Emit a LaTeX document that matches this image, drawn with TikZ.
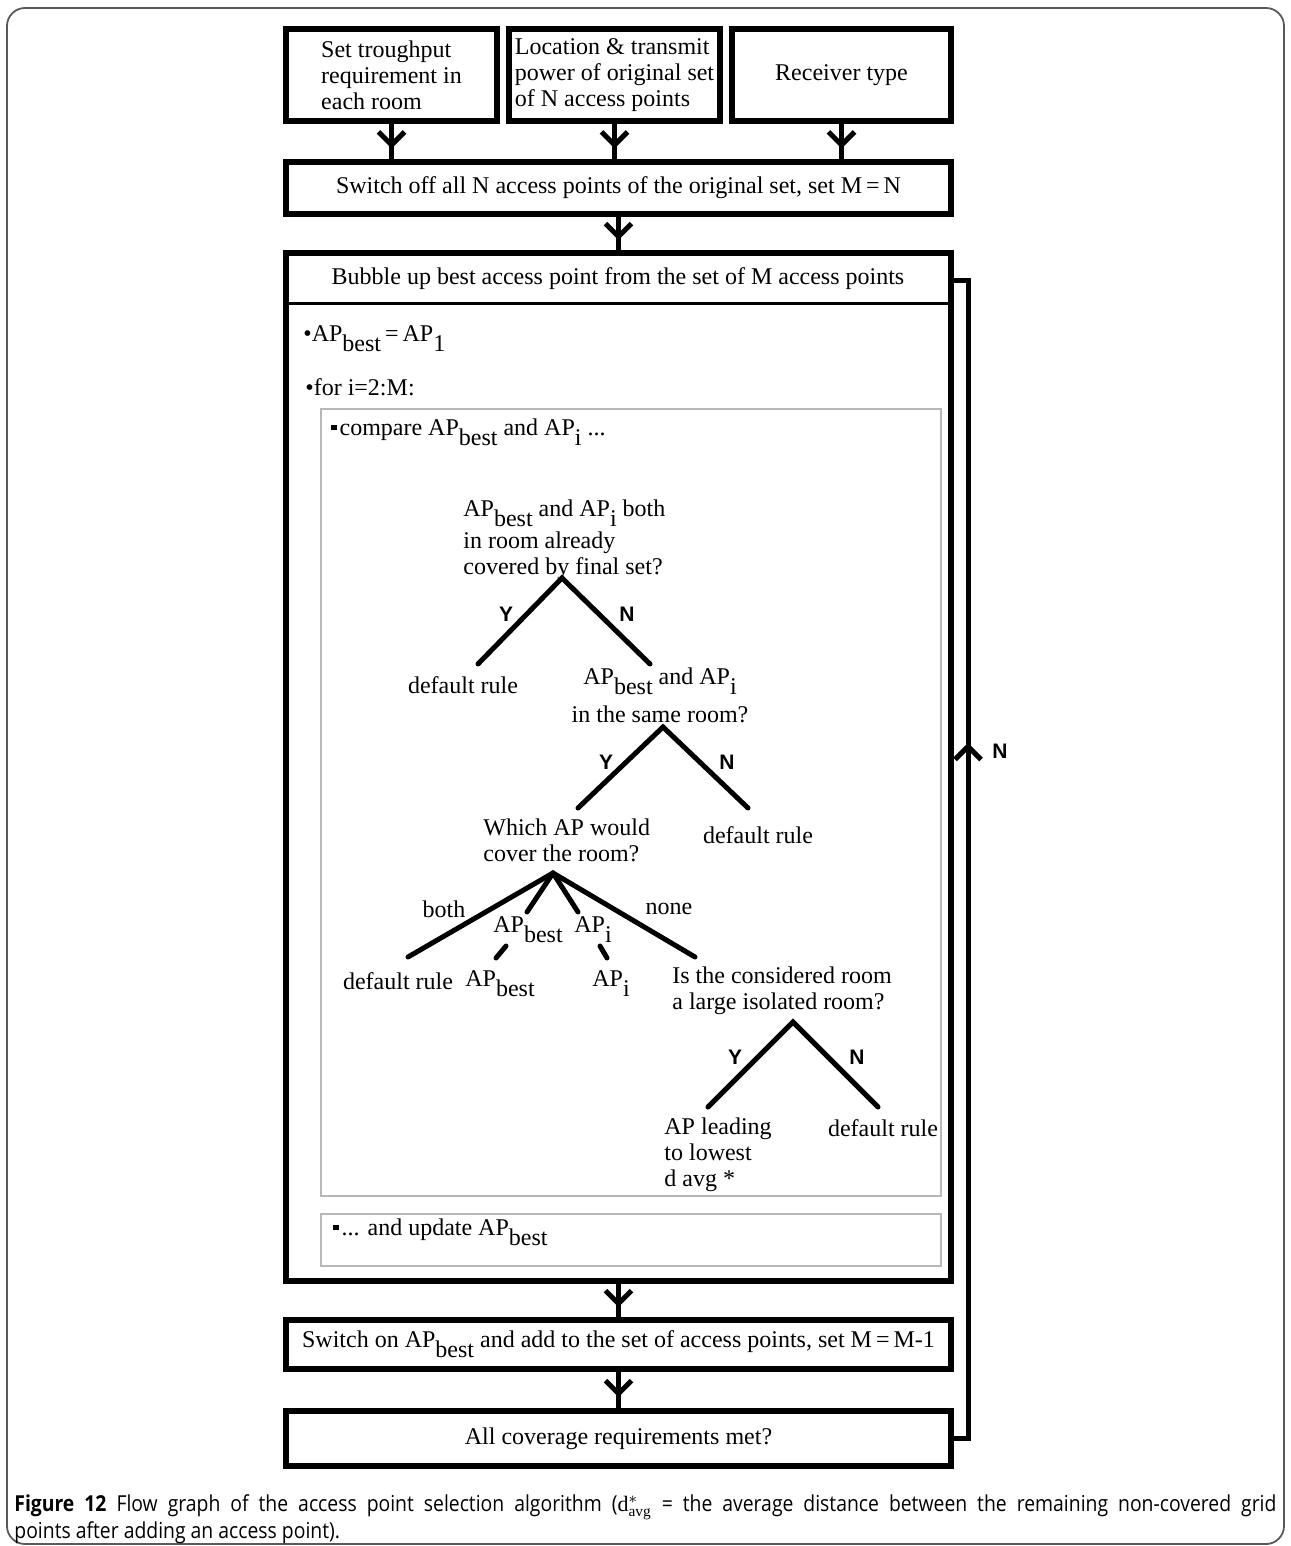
\documentclass[tikz,border=0pt]{standalone}
\usepackage{fontspec}
\setmainfont{Liberation Serif}
\newfontfamily\labfont{Liberation Sans}
\newfontfamily\capfont[FakeStretch=0.88]{Open Sans}
\usetikzlibrary{arrows.meta,decorations.markings}
\newcommand\lsub[1]{\raisebox{-5pt}{#1}}
\newcommand\bul{\textbullet}
\newcommand\sqb{\raisebox{2.5pt}{\rule{2.6pt}{2.6pt}}\hspace{1.5pt}}
\begin{document}
\begin{tikzpicture}[x=0.5pt,y=-0.5pt,
  box/.style={draw,line width=3pt,inner sep=0pt,font=\fontsize{12}{13}\selectfont},
  gbox/.style={draw=black!28,line width=1.2pt,inner sep=0pt},
  txt/.style={inner sep=0pt,font=\fontsize{12}{13}\selectfont},
  yn/.style={inner sep=0pt,font=\labfont\bfseries\fontsize{10.5}{11}\selectfont},
  branch/.style={line width=2.5pt,line cap=round},
  flow/.style={line width=2.5pt,postaction={decorate},
    decoration={markings,mark=at position #1 with {\arrow{Straight Barb[length=6.5pt,width=13pt]}}}},
  flow/.default=0.7]
\useasboundingbox (0,0) rectangle (1290,1546);
% outer frame
\draw[black!65,line width=0.9pt,rounded corners=9pt] (7,8) rectangle (1284,1544);

% top boxes
\node[box,minimum width=105.5pt,minimum height=46pt,align=left] (t1) at (391.5,75)
  {Set troughput\\requirement in\\each room};
\node[box,minimum width=105.5pt,minimum height=46pt,align=left] (t2) at (614.5,75)
  {Location \& transmit\\power of original set\\of N access points};
\node[box,minimum width=109.5pt,minimum height=46pt] (t3) at (841.5,75) {Receiver type};
\node[box,minimum width=332.5pt,minimum height=26pt] (sw) at (618.5,188)
  {Switch off all N access points of the original set, set M\,=\,N};

\draw[flow] (t1.south) -- (t1.south |- sw.north);
\draw[flow] (t2.south) -- (t2.south |- sw.north);
\draw[flow] (t3.south) -- (t3.south |- sw.north);

% big box
\node[box,minimum width=332.5pt,minimum height=514pt] (bub) at (618.5,767) {};
\draw[flow] (sw.south) -- (bub.north);
\coordinate (divy) at (0,303);
\draw[line width=1.5pt] (bub.west |- divy) -- (bub.east |- divy);
\node[txt] (hdr) at (618,279) {Bubble up best access point from the set of M access points};

\node[txt,anchor=base west] (b1) at (303,341) {\bul AP\lsub{best}\,=\,AP\lsub{1}};
\node[txt,anchor=base west] (b2) at (305,395) {\bul for i=2:M:};

% gray inner boxes
\node[gbox,minimum width=310pt,minimum height=393.5pt] (g1) at (631,802.5) {};
\node[gbox,minimum width=310pt,minimum height=26pt] (g2) at (631,1240) {};
\node[txt,anchor=base west] (cmp) at (331,435) {\sqb compare AP\lsub{best} and AP\lsub{i} ...};
\node[txt,anchor=base west] (upd) at (333,1235) {\sqb ... and update AP\lsub{best}};

% decision 1
\node[txt,anchor=north west,align=left] (q1) at (463,499)
  {AP\lsub{best} and AP\lsub{i} both\\[2pt]in room already\\covered by final set?};
\coordinate (a1) at (562,578);
\coordinate (l1) at (478,664);
\coordinate (r1) at (650,664);
\draw[branch] (l1) -- (a1) -- (r1);
\node[yn] (y1) at (506,614) {Y};
\node[yn] (n1) at (627,614) {N};
\node[txt] (d1) at (463,685) {default rule};

% decision 2
\node[txt,anchor=north,align=center] (q2) at (660,667)
  {AP\lsub{best} and AP\lsub{i}\\[5pt]in the same room?};
\coordinate (a2) at (663,727);
\coordinate (l2) at (578,808);
\coordinate (r2) at (748,808);
\draw[branch] (l2) -- (a2) -- (r2);
\node[yn] (y2) at (606,762) {Y};
\node[yn] (n2) at (727,762) {N};
\node[txt] (d2) at (758,835) {default rule};

% decision 3
\node[txt,anchor=north west,align=left] (q3) at (483,818) {Which AP would\\cover the room?};
\coordinate (a3) at (553,873);
\coordinate (e1) at (408,957);
\coordinate (e2a) at (527,912);
\coordinate (e2b) at (506,946);
\coordinate (e2c) at (496,958);
\coordinate (e3a) at (578,912);
\coordinate (e3b) at (600,946);
\coordinate (e3c) at (607,958);
\coordinate (e4) at (695,957);
\draw[branch] (e1) -- (a3) -- (e4);
\draw[branch] (a3) -- (e2a);
\draw[branch] (a3) -- (e3a);
\draw[branch] (e2b) -- (e2c);
\draw[branch] (e3b) -- (e3c);
\node[txt] (lb) at (444,909) {both};
\node[txt] (ln) at (669,909) {none};
\node[txt,anchor=base west] (lab) at (493,932) {AP\lsub{best}};
\node[txt,anchor=base west] (lai) at (574,932) {AP\lsub{i}};
\node[txt] (d3) at (398,981) {default rule};
\node[txt,anchor=base west] (ob) at (465,986) {AP\lsub{best}};
\node[txt,anchor=base west] (oi) at (592,986) {AP\lsub{i}};
\node[txt,anchor=north west,align=left] (q4) at (672,966) {Is the considered room\\a large isolated room?};

% decision 4
\coordinate (a4) at (793,1022);
\coordinate (l4) at (708,1107);
\coordinate (r4) at (878,1107);
\draw[branch] (l4) -- (a4) -- (r4);
\node[yn] (y4) at (735,1057) {Y};
\node[yn] (n4) at (857,1057) {N};
\node[txt,anchor=north west,align=left] (d4) at (664,1117) {AP leading\\to lowest\\d avg *};
\node[txt] (d5) at (883,1128) {default rule};

% lower boxes
\node[box,minimum width=332.5pt,minimum height=24.5pt] (sw2) at (618.5,1344.5)
  {Switch on AP\lsub{best} and add to the set of access points, set M\,=\,M-1};
\node[box,minimum width=332.5pt,minimum height=27.5pt] (all) at (618.5,1438.5)
  {All coverage requirements met?};
\draw[flow] (bub.south) -- (sw2.north);
\draw[flow] (sw2.south) -- (all.north);

% feedback loop
\coordinate (fbtop) at (968,280);
\draw[flow=0.598] (all.east) -| (fbtop) -- (bub.east |- fbtop);
\node[yn] (nfb) at (1000,751) {N};

% caption
\node[anchor=north west,inner sep=0pt,text width=631pt,align=justify,
  font=\capfont\fontsize{11}{12.5}\selectfont] (cap) at (14,1494)
  {\textbf{Figure 12} Flow graph of the access point selection algorithm ($\mathrm{d}^{*}_{\mathrm{avg}}$ = the average distance between the remaining non-covered grid\linebreak points after adding an access point).};
\end{tikzpicture}
\end{document}
